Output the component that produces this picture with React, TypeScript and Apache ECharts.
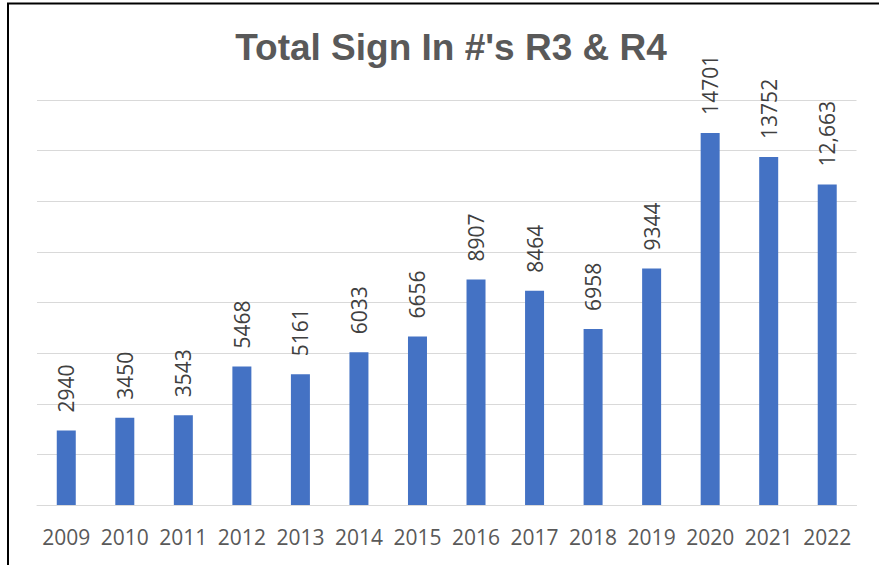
import React, { useEffect, useRef } from "react";
import * as echarts from "echarts";

const years = ["2009", "2010", "2011", "2012", "2013", "2014", "2015", "2016", "2017", "2018", "2019", "2020", "2021", "2022"];
const signIns = [2940, 3450, 3543, 5468, 5161, 6033, 6656, 8907, 8464, 6958, 9344, 14701, 13752, 12663];
const valueLabels = ["2940", "3450", "3543", "5468", "5161", "6033", "6656", "8907", "8464", "6958", "9344", "14701", "13752", "12,663"];
const chartTitle = "Total Sign In #'s R3 & R4";

export default function App() {
  const ref = useRef<HTMLDivElement>(null);
  useEffect(() => {
    if (!ref.current) return;
    const chart = echarts.init(ref.current, null, { renderer: "svg" });
    chart.setOption({
      animation: false,
      backgroundColor: "#ffffff",
      title: {
        text: chartTitle,
        left: 446,
        top: 24,
        textAlign: "center",
        textStyle: {
          fontFamily: "Arial",
          fontSize: 37,
          fontWeight: "bold",
          color: "#595959",
        },
      },
      graphic: [
        {
          type: "rect",
          shape: { x: 8, y: 3.5, width: 900, height: 600 },
          style: { fill: "none", stroke: "#000000", lineWidth: 2 },
          silent: true,
        },
      ],
      grid: { left: 37, right: 22.5, top: 100, bottom: 60 },
      xAxis: {
        type: "category",
        data: years,
        axisLine: { show: true, lineStyle: { color: "#D9D9D9", width: 1 } },
        axisTick: { show: false },
        axisLabel: {
          interval: 0,
          margin: 21,
          fontFamily: "Open Sans",
          fontSize: 21,
          color: "#595959",
        },
      },
      yAxis: {
        type: "value",
        min: 0,
        max: 16000,
        interval: 2000,
        axisLabel: { show: false },
        axisLine: { show: false },
        axisTick: { show: false },
        splitLine: { lineStyle: { color: "#D9D9D9", width: 1 } },
      },
      series: [
        {
          type: "bar",
          data: signIns,
          barWidth: 19,
          itemStyle: { color: "#4472C4" },
          label: {
            show: true,
            position: "top",
            rotate: 90,
            align: "left",
            verticalAlign: "middle",
            distance: 18,
            fontFamily: "Open Sans",
            fontSize: 21,
            color: "#404040",
            formatter: (p: any) => valueLabels[p.dataIndex],
          },
        },
      ],
    });
    return () => chart.dispose();
  }, []);
  return (
    <div
      ref={ref}
      style={{ position: "fixed", left: 0, top: 0, width: 879, height: 565 }}
    />
  );
}
